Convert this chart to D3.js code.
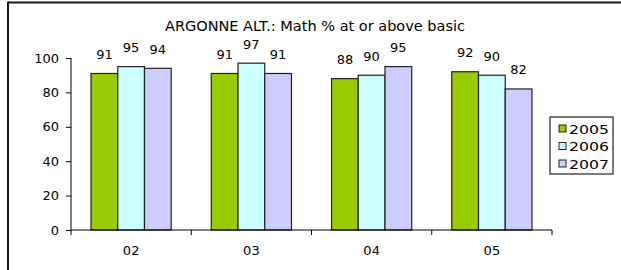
<!DOCTYPE html>
<html><head><meta charset="utf-8">
<script src="https://cdn.jsdelivr.net/npm/d3@7"></script>
<style>
html,body{margin:0;padding:0;background:#fff;}
svg{display:block;}
text{font-family:"DejaVu Sans",Verdana,sans-serif;fill:#000;}
</style></head>
<body>
<svg id="chart" width="621" height="270"></svg>
<script>
const title = "ARGONNE ALT.: Math % at or above basic";
const categories = ["02", "03", "04", "05"];
const seriesNames = ["2005", "2006", "2007"];
const values2005 = [91, 91, 88, 92];
const values2006 = [95, 97, 90, 90];
const values2007 = [94, 91, 95, 82];
const yTicks = [0, 20, 40, 60, 80, 100];
const colors = ["#99CC00", "#CCFFFF", "#CCCCFF"];

const seriesValues = [values2005, values2006, values2007];
const svg = d3.select("#chart");

// frame (top & left edges visible)
svg.append("line").attr("x1", 8).attr("x2", 621).attr("y1", 2.5).attr("y2", 2.5).attr("stroke", "#1a1a1a").attr("stroke-width", 2);
svg.append("line").attr("x1", 8).attr("x2", 8).attr("y1", 1.5).attr("y2", 270).attr("stroke", "#1a1a1a").attr("stroke-width", 2);

const x0 = d3.scaleBand().domain(categories).range([71, 552]).padding(0);
const x1 = d3.scaleBand().domain(seriesNames).range([0, x0.bandwidth()]).paddingInner(0).paddingOuter(0.75);
const y = d3.scaleLinear().domain([0, 100]).range([230, 58]);

// title
svg.append("text").attr("x", 315).attr("y", 31).attr("text-anchor", "middle")
  .style("font-size", "14.5px").text(title);

// bars
const data = [];
categories.forEach((c, i) => seriesNames.forEach((s, j) => data.push({c, s, v: seriesValues[j][i], j})));

svg.append("g").selectAll("rect").data(data).join("rect")
  .attr("x", d => x0(d.c) + x1(d.s))
  .attr("y", d => y(d.v))
  .attr("width", x1.bandwidth())
  .attr("height", d => y(0) - y(d.v))
  .attr("fill", d => colors[d.j])
  .attr("stroke", "#222").attr("stroke-width", 1.2);

// data labels
svg.append("g").selectAll("text").data(data).join("text")
  .attr("x", d => x0(d.c) + x1(d.s) + x1.bandwidth() / 2)
  .attr("y", d => y(d.v) - 14.5)
  .attr("text-anchor", "middle")
  .style("font-size", "13px")
  .text(d => d.v);

// y axis
const yAxis = d3.axisLeft(y).tickValues(yTicks).tickSize(5).tickPadding(7);
const gy = svg.append("g").attr("transform", "translate(71,0)").call(yAxis);
gy.select(".domain").attr("stroke", "#000").attr("d", `M0,${y(100)}V${y(0)}`);
gy.selectAll(".tick line").attr("stroke", "#000");
gy.selectAll(".tick text").style("font-size", "13px").style("font-family", "DejaVu Sans").attr("fill", "#000");

// x axis
const xAxis = d3.axisBottom(x0).tickSize(0).tickPadding(16);
const gx = svg.append("g").attr("transform", `translate(0,${y(0)})`).call(xAxis);
gx.select(".domain").attr("stroke", "#000").attr("d", "M71,0H552");
gx.selectAll(".tick text").style("font-size", "13px").style("font-family", "DejaVu Sans").attr("fill", "#000");
const bounds = categories.map(c => x0(c)).concat([x0.range()[1]]);
gx.append("g").selectAll("line").data(bounds).join("line")
  .attr("x1", d => d).attr("x2", d => d).attr("y1", 0).attr("y2", 5).attr("stroke", "#000");

// legend
const lg = svg.append("g");
lg.append("rect").attr("x", 550).attr("y", 117).attr("width", 63).attr("height", 57)
  .attr("fill", "#fff").attr("stroke", "#222").attr("stroke-width", 1.2);
const rows = lg.selectAll("g").data(seriesNames).join("g")
  .attr("transform", (d, i) => `translate(0,${129 + i * 17.5})`);
rows.append("rect").attr("x", 559).attr("y", -4).attr("width", 7).attr("height", 7)
  .attr("fill", (d, i) => colors[i]).attr("stroke", "#222").attr("stroke-width", 1);
rows.append("text").attr("x", 569).attr("y", 0).attr("dy", "0.36em")
  .style("font-size", "12.5px").attr("textLength", 40).attr("lengthAdjust", "spacingAndGlyphs").text(d => d);
</script>
</body></html>
